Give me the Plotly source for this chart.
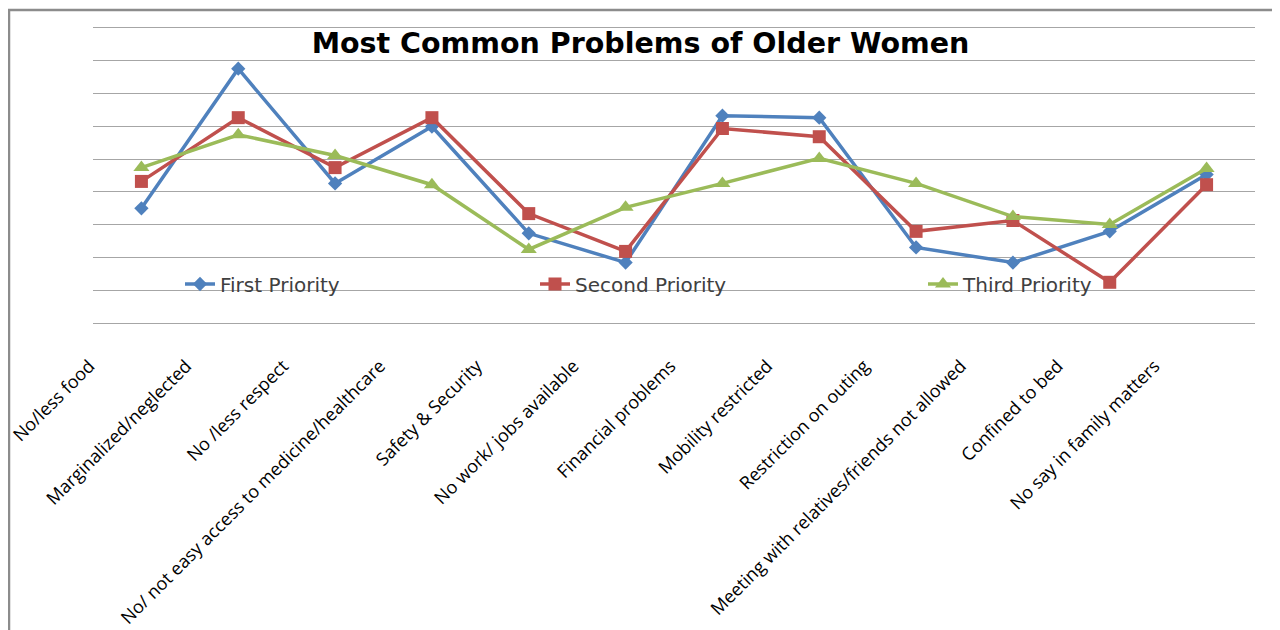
import plotly.graph_objects as go

categories = [
    "No/less food",
    "Marginalized/neglected",
    "No /less respect",
    "No/ not easy access to medicine/healthcare",
    "Safety & Security",
    "No work/ jobs available",
    "Financial problems",
    "Mobility restricted",
    "Restriction on outing",
    "Meeting with relatives/friends not allowed",
    "Confined to bed",
    "No say in family matters",
]

first_priority = [3.50, 7.75, 4.26, 5.99, 2.74, 1.85, 6.32, 6.26, 2.31, 1.85, 2.80, 4.53]
second_priority = [4.32, 6.26, 4.74, 6.26, 3.34, 2.19, 5.93, 5.68, 2.80, 3.13, 1.25, 4.22]
third_priority = [4.74, 5.74, 5.11, 4.22, 2.25, 3.53, 4.26, 5.02, 4.26, 3.25, 3.01, 4.71]

series_names = ["First Priority", "Second Priority", "Third Priority"]
colors = ["#4F81BD", "#C0504D", "#9BBB59"]
symbols = ["diamond", "square", "triangle-up"]
sizes = [11, 13, 14]
legend_ids = ["legend", "legend2", "legend3"]

fig = go.Figure()
for name, vals, col, sym, sz, lg in zip(series_names, [first_priority, second_priority, third_priority],
                                         colors, symbols, sizes, legend_ids):
    fig.add_trace(go.Scatter(
        x=categories, y=vals, name=name, mode="lines+markers",
        line=dict(color=col, width=3.5),
        marker=dict(symbol=sym, size=sz, color=col),
        legend=lg,
    ))

# page is offset by the 8px body margin; figure coordinates below
W, H = 1280, 630
L, T = 85, 18
pw, ph = 1162, 299
R = W - L - pw
B = H - T - ph

def px_x(fx):
    return (fx - L) / pw

def px_y(fy):
    return (T + ph - fy) / ph

legend_style = dict(orientation="h", yanchor="middle", xanchor="left",
                    bgcolor="rgba(0,0,0,0)",
                    font=dict(family="DejaVu Sans", size=20, color="#404040"))

fig.update_layout(
    width=W, height=H,
    margin=dict(l=L, r=R, t=T, b=B, autoexpand=False),
    paper_bgcolor="white", plot_bgcolor="white",
    font=dict(family="Open Sans", color="#000000"),
    title=dict(text="<b>Most Common Problems of Older Women</b>",
               font=dict(family="DejaVu Sans", size=28.5, color="#000000"),
               x=632.5 / W, xanchor="center", y=1 - 35 / H, yanchor="middle",
               automargin=False),
    showlegend=True,
    legend=dict(x=px_x(172), y=px_y(276), **legend_style),
    legend2=dict(x=px_x(527), y=px_y(276), **legend_style),
    legend3=dict(x=px_x(915), y=px_y(276), **legend_style),
    xaxis=dict(type="category", range=[-0.5, len(categories) - 0.5],
               tickangle=-45, showgrid=False, showline=False, ticks="",
               automargin=False, ticklabelshift=-52, ticklabelstandoff=26,
               tickfont=dict(family="Open Sans", size=18, color="#000000")),
    yaxis=dict(range=[-0.05, 9.05], tickvals=list(range(10)), showticklabels=False, showgrid=True,
               automargin=False,
               gridcolor="#a6a6a6", gridwidth=1.3, zeroline=False, showline=False, ticks=""),
    shapes=[dict(type="rect", xref="paper", yref="paper",
                 x0=px_x(1), x1=px_x(1267),
                 y0=px_y(640), y1=px_y(2),
                 line=dict(color="#8c8c8c", width=2.5), fillcolor="rgba(0,0,0,0)", layer="below")],
)

fig.write_html("out.html")
